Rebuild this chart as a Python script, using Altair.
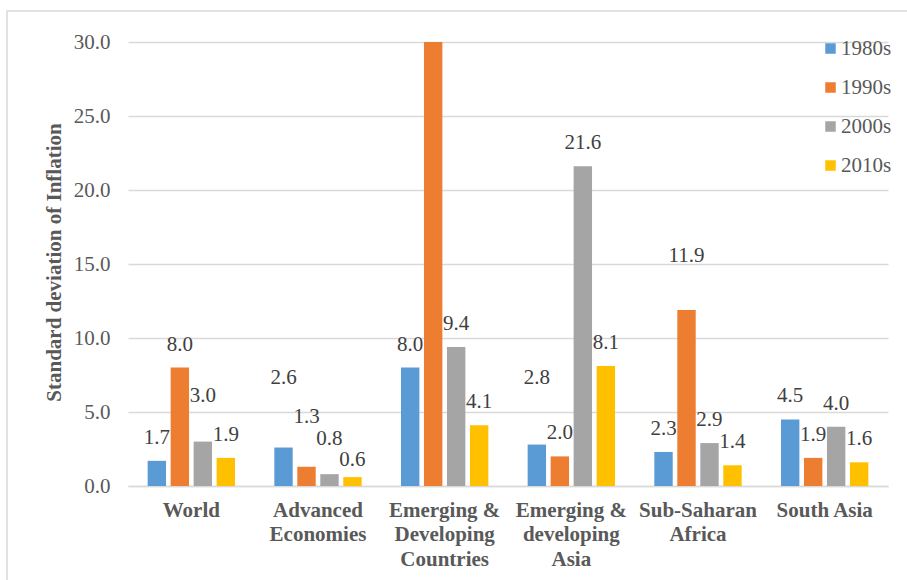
import altair as alt
import pandas as pd

# Regions (multi-line labels split on "|") and decades
regions = [
    "World",
    "Advanced|Economies",
    "Emerging &|Developing|Countries",
    "Emerging &|developing|Asia",
    "Sub-Saharan|Africa",
    "South Asia",
]
decades = ["1980s", "1990s", "2000s", "2010s"]

# Standard deviation of inflation per region, one list per decade
sd_1980s = [1.7, 2.6, 8.0, 2.8, 2.3, 4.5]
sd_1990s = [8.0, 1.3, 30.0, 2.0, 11.9, 1.9]  # EDC 1990s runs past the axis cap of 30
sd_2000s = [3.0, 0.8, 9.4, 21.6, 2.9, 4.0]
sd_2010s = [1.9, 0.6, 4.1, 8.1, 1.4, 1.6]

y_ticks = [0, 5, 10, 15, 20, 25, 30]
y_max = 30
colors = ["#5B9BD5", "#ED7D31", "#A5A5A5", "#FFC000"]

PLOT_W, PLOT_H = 760, 444

# value labels sit a fixed distance (px) above their bar; a few are nudged
# further up so neighbouring labels do not collide
LABEL_GAP = 23
label_nudge = {
    ("World", "2000s"): 23,
    ("Advanced|Economies", "1980s"): 47,
    ("Advanced|Economies", "1990s"): 27,
    ("Advanced|Economies", "2000s"): 12,
    ("Advanced|Economies", "2010s"): -6,
    ("Emerging &|developing|Asia", "1980s"): 44,
    ("Sub-Saharan|Africa", "1990s"): 31,
}

rows = []
for dec, series in zip(decades, [sd_1980s, sd_1990s, sd_2000s, sd_2010s]):
    for reg, v in zip(regions, series):
        lift_px = LABEL_GAP + label_nudge.get((reg, dec), 0)
        rows.append({
            "region": reg,
            "decade": dec,
            "value": v,
            "label_at": v + lift_px * y_max / PLOT_H,
        })
df = pd.DataFrame(rows)

SERIF = "Liberation Serif"
FS = 21
GREY = "#595959"

x_enc = alt.X(
    "region:N",
    sort=regions,
    scale=alt.Scale(paddingInner=0.274, paddingOuter=0.137),
    axis=alt.Axis(
        title=None,
        labelAngle=0,
        labelExpr="split(datum.label, '|')",
        labelFont=SERIF,
        labelFontSize=FS,
        labelFontWeight="bold",
        labelColor=GREY,
        labelLineHeight=24.5,
        labelPadding=13,
        labelLimit=300,
        ticks=False,
        domainColor="#D9D9D9",
        domainWidth=1.5,
        grid=False,
    ),
)
xoff_enc = alt.XOffset(
    "decade:N", sort=decades, scale=alt.Scale(paddingInner=0.2, paddingOuter=0.1)
)
y_scale = alt.Scale(domain=[0, y_max], nice=False)

bars = alt.Chart(df).mark_bar(clip=True).encode(
    x=x_enc,
    xOffset=xoff_enc,
    y=alt.Y(
        "value:Q",
        scale=y_scale,
        axis=alt.Axis(
            title="Standard deviation of Inflation",
            values=y_ticks,
            format=".1f",
            labelFont=SERIF,
            labelFontSize=FS,
            labelColor=GREY,
            labelPadding=18,
            ticks=False,
            domain=False,
            gridColor="#D9D9D9",
            gridWidth=1.5,
            titleFont=SERIF,
            titleFontSize=FS,
            titleFontWeight="bold",
            titleColor=GREY,
            titleAngle=270,
            titleBaseline="alphabetic",
            titleX=-68,
            titleY=220,
        ),
    ),
    color=alt.Color(
        "decade:N",
        sort=decades,
        scale=alt.Scale(domain=decades, range=colors),
        legend=alt.Legend(
            title=None,
            orient="none",
            legendX=692,
            legendY=-4,
            symbolType="square",
            symbolSize=110,
            symbolStrokeWidth=0,
            labelFont=SERIF,
            labelFontSize=FS,
            labelColor=GREY,
            labelOffset=0,
            rowPadding=17,
            padding=0,
        ),
    ),
)

labels = alt.Chart(df).transform_filter(
    alt.datum.value < y_max
).mark_text(
    font=SERIF, fontSize=FS, color="#404040", baseline="middle"
).encode(
    x=alt.X("region:N", sort=regions),
    xOffset=alt.XOffset("decade:N", sort=decades),
    y=alt.Y("label_at:Q", scale=y_scale),
    text=alt.Text("value:Q", format=".1f"),
)

# thin outer frame around the whole figure
frame = alt.Chart(pd.DataFrame({"f": [0]})).mark_rect(
    fill=None, stroke="#D9D9D9", strokeWidth=1.5
).encode(
    x=alt.value(-121), x2=alt.value(784), y=alt.value(-31), y2=alt.value(543)
)

chart = alt.layer(bars, labels, frame).properties(
    width=PLOT_W,
    height=PLOT_H,
    autosize=alt.AutoSizeParams(type="none"),
    padding={"left": 128, "top": 42, "right": 19, "bottom": 94},
    background="white",
).configure_view(stroke=None)

chart.save("out.html", embed_options={"renderer": "svg", "actions": False})
